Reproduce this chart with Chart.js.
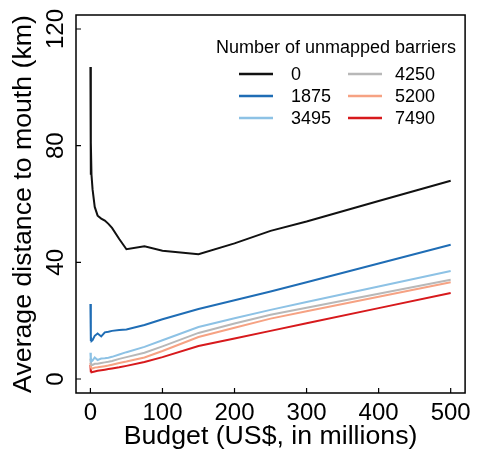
<!DOCTYPE html>
<html>
<head>
<meta charset="utf-8">
<script src="https://cdn.jsdelivr.net/npm/chart.js@4.4.1/dist/chart.umd.min.js"></script>
<style>
    html, body { margin: 0; padding: 0; background: #fff; }
    #wrap { width: 477px; height: 462px; }
</style>
</head>
<body>
<div id="wrap"><canvas id="chart"></canvas></div>
<script>
// budget (US$ millions) shared by every series
const budgets = [0, 0.4, 0.8, 1.5, 3, 6, 10, 15, 20, 25, 30, 40, 50, 75, 100, 150, 200, 250, 300, 400, 500];

// average distance to mouth (km), one array per number of unmapped barriers
const dist0    = [107, 70, 81, 70, 65, 59, 56, 55, 54.3, 53.2, 51.8, 48, 44.5, 45.5, 44, 42.8, 46.5, 50.8, 54, 61, 68];
const dist1875 = [25.7, 13, 14.5, 13, 13.3, 14.8, 15.6, 14.6, 16, 16.2, 16.5, 16.8, 17, 18.5, 20.5, 24, 27, 30, 33.2, 39.6, 46];
const dist3495 = [9, 6, 7.4, 6, 6.3, 7.4, 6.5, 7, 7.1, 7.3, 7.6, 8.4, 9.2, 11, 13.3, 17.8, 20.8, 23.7, 26.4, 31.7, 37];
const dist4250 = [7, 5, 5.8, 4.8, 4.8, 5.2, 5.2, 5.5, 5.7, 5.9, 6.2, 6.9, 7.5, 9, 11.2, 15.8, 19, 22, 24.4, 29.2, 34];
const dist5200 = [5.5, 3.8, 4.5, 3.6, 3.6, 3.9, 4, 4.2, 4.4, 4.6, 4.9, 5.5, 6, 7.4, 9.6, 14.4, 17.6, 20.7, 23.2, 28.2, 33.2];
const dist7490 = [4.8, 2.3, 3, 2.3, 2.4, 2.6, 2.8, 3, 3.2, 3.4, 3.6, 4, 4.5, 5.8, 7.5, 11.3, 13.9, 16.5, 19.1, 24.3, 29.5];

const seriesLabels = ['0', '1875', '3495', '4250', '5200', '7490'];
const seriesValues = [dist0, dist1875, dist3495, dist4250, dist5200, dist7490];

const xTicks = [0, 100, 200, 300, 400, 500];
const yTicks = [0, 40, 80, 120];

const legendTitle = 'Number of unmapped barriers';
const xTitle = 'Budget (US$, in millions)';
const yTitle = 'Average distance to mouth (km)';

const colors = ['#111111', '#1f6db5', '#8dc2e5', '#b8b8b8', '#f6a283', '#d7191c'];
const FONT = '"Liberation Sans", Arial, Helvetica, sans-serif';

// box around the plot with inward ticks, like base R graphics
const framePlugin = {
    id: 'frame',
    afterDraw(chart) {
        const { ctx, chartArea: a, scales: { x, y } } = chart;
        ctx.save();
        ctx.strokeStyle = '#000';
        ctx.lineWidth = 1.5;
        ctx.strokeRect(a.left, a.top, a.right - a.left, a.bottom - a.top);
        ctx.lineWidth = 1.2;
        ctx.beginPath();
        for (const t of x.ticks) {
            const px = x.getPixelForValue(t.value);
            ctx.moveTo(px, a.bottom);
            ctx.lineTo(px, a.bottom - 5);
        }
        for (const t of y.ticks) {
            const py = y.getPixelForValue(t.value);
            ctx.moveTo(a.left, py);
            ctx.lineTo(a.left + 5, py);
        }
        ctx.stroke();
        ctx.restore();
    }
};

// two column legend with a title, filled column by column
const legendPlugin = {
    id: 'colLegend',
    afterDraw(chart) {
        const ctx = chart.ctx;
        const sets = chart.data.datasets;
        ctx.save();
        ctx.fillStyle = '#000';
        ctx.font = '18px ' + FONT;
        ctx.textAlign = 'center';
        ctx.textBaseline = 'alphabetic';
        ctx.fillText(legendTitle, 336, 53);
        ctx.textAlign = 'left';
        ctx.textBaseline = 'middle';
        sets.forEach((ds, i) => {
            const col = Math.floor(i / 3);
            const row = i % 3;
            const lx = col === 0 ? 239 : 348;
            const tx = col === 0 ? 291 : 395;
            const ly = 74 + row * 22;
            ctx.strokeStyle = ds.borderColor;
            ctx.lineWidth = 2.5;
            ctx.beginPath();
            ctx.moveTo(lx, ly);
            ctx.lineTo(lx + 34, ly);
            ctx.stroke();
            ctx.fillStyle = '#000';
            ctx.fillText(ds.label, tx, ly + 1);
        });
        ctx.restore();
    }
};

const datasets = seriesLabels.map((label, i) => ({
    label: label,
    data: budgets.map((b, j) => ({ x: b, y: seriesValues[i][j] })),
    borderColor: colors[i],
    backgroundColor: colors[i],
    borderWidth: 2,
    pointRadius: 0,
    tension: 0,
    fill: false
}));

new Chart(document.getElementById('chart'), {
    type: 'line',
    data: { datasets: datasets },
    options: {
        responsive: true,
        maintainAspectRatio: false,
        animation: false,
        layout: { padding: { top: 15, right: 8, left: 0, bottom: 0 } },
        plugins: {
            legend: { display: false },
            tooltip: { enabled: false }
        },
        scales: {
            x: {
                type: 'linear',
                min: -20,
                max: 520,
                afterBuildTicks: s => { s.ticks = xTicks.map(v => ({ value: v })); },
                afterFit: s => { s.height = 69; },
                grid: { display: true, drawOnChartArea: false, drawTicks: false },
                border: { display: false },
                ticks: {
                    color: '#000',
                    padding: 6,
                    maxRotation: 0,
                    font: { family: FONT, size: 24 }
                },
                title: {
                    display: true,
                    text: xTitle,
                    color: '#000',
                    font: { family: FONT, size: 26.7 },
                    padding: { top: 0, bottom: 9.5 }
                }
            },
            y: {
                type: 'linear',
                min: -4.8,
                max: 124.8,
                afterBuildTicks: s => { s.ticks = yTicks.map(v => ({ value: v })); },
                afterFit: s => { s.width = 76; },
                grid: { display: true, drawOnChartArea: false, drawTicks: false },
                border: { display: false },
                ticks: {
                    color: '#000',
                    padding: 0,
                    minRotation: 90,
                    maxRotation: 90,
                    crossAlign: 'center',
                    font: { family: FONT, size: 24 }
                },
                title: {
                    display: true,
                    text: yTitle,
                    color: '#000',
                    font: { family: FONT, size: 26.7 },
                    padding: { top: 8, bottom: 0 }
                }
            }
        }
    },
    plugins: [framePlugin, legendPlugin]
});
</script>
</body>
</html>
